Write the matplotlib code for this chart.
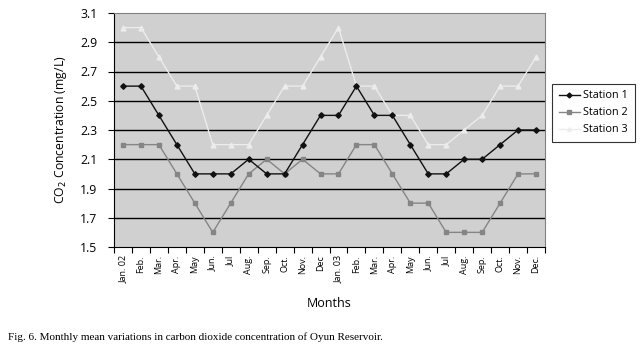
import matplotlib
matplotlib.use("Agg")
import matplotlib.pyplot as plt
import numpy as np

months = ["Jan. 02", "Feb.", "Mar.", "Apr.", "May", "Jun.", "Jul", "Aug.", "Sep.", "Oct.", "Nov.", "Dec",
          "Jan. 03", "Feb.", "Mar.", "Apr.", "May", "Jun.", "Jul", "Aug.", "Sep.", "Oct.", "Nov.", "Dec."]
station1 = [2.6, 2.6, 2.4, 2.2, 2.0, 2.0, 2.0, 2.1, 2.0, 2.0, 2.2, 2.4,
            2.4, 2.6, 2.4, 2.4, 2.2, 2.0, 2.0, 2.1, 2.1, 2.2, 2.3, 2.3]
station2 = [2.2, 2.2, 2.2, 2.0, 1.8, 1.6, 1.8, 2.0, 2.1, 2.0, 2.1, 2.0,
            2.0, 2.2, 2.2, 2.0, 1.8, 1.8, 1.6, 1.6, 1.6, 1.8, 2.0, 2.0]
station3 = [3.0, 3.0, 2.8, 2.6, 2.6, 2.2, 2.2, 2.2, 2.4, 2.6, 2.6, 2.8,
            3.0, 2.6, 2.6, 2.4, 2.4, 2.2, 2.2, 2.3, 2.4, 2.6, 2.6, 2.8]
yticks = [1.5, 1.7, 1.9, 2.1, 2.3, 2.5, 2.7, 2.9, 3.1]

plt.rcParams['font.family'] = ['Open Sans', 'DejaVu Sans']

fig = plt.figure(figsize=(6.4, 3.54), dpi=100)
ax = fig.add_axes([114/640, 1 - 247/354, (545-114)/640, (247-13)/354])
ax.set_facecolor("#d0d0d0")

x = np.arange(len(months))
ax.plot(x, station1, color="#111111", lw=1.0, marker="D", ms=2.8, label="Station 1", zorder=4)
ax.plot(x, station2, color="#858585", lw=1.0, marker="s", ms=3.5, label="Station 2", zorder=3)
ax.plot(x, station3, color="#ececec", lw=1.0, marker="^", ms=3.5, label="Station 3", zorder=3)

ax.set_xlim(-0.5, len(months) - 0.5)
ax.set_ylim(1.5, 3.1)
ax.set_yticks(yticks)
ax.set_yticklabels([f"{v:.1f}" for v in yticks], fontsize=8.8)
for v in yticks[1:-1]:
    ax.axhline(v, color="black", lw=1.0, zorder=1)

ax.set_xticks(np.arange(-0.5, len(months), 1.0))
ax.set_xticklabels([])
ax.set_xticks(x, minor=True)
ax.set_xticklabels(months, minor=True, rotation=90, fontsize=6.5)
ax.tick_params(axis="x", which="minor", length=0, pad=6)
ax.tick_params(axis="x", which="major", length=4, direction="out", width=0.8)
ax.tick_params(axis="y", length=4, direction="out", width=0.8, pad=8)

ax.spines["top"].set_color("#808080")
ax.spines["right"].set_color("#808080")
ax.spines["left"].set_color("black")
ax.spines["bottom"].set_color("black")

ax.set_ylabel("CO$_2$ Concentration (mg/L)", fontsize=8.8, labelpad=8)
ax.set_xlabel("Months", fontsize=9, labelpad=10)

leg = fig.legend(loc="upper left", bbox_to_anchor=(552/640, 1 - 84/354), fontsize=7.8,
                 frameon=True, fancybox=False, edgecolor="black", handlelength=2.0,
                 borderpad=0.6, labelspacing=0.55, handletextpad=0.3, borderaxespad=0)
leg.get_frame().set_linewidth(0.8)
for h in leg.legend_handles:
    h.set_markersize(2.5)

fig.text(8/640, 1 - 337/354, "Fig. 6. Monthly mean variations in carbon dioxide concentration of Oyun Reservoir.",
         family="Liberation Serif", fontsize=8.0, va="center", ha="left")

fig.savefig("out.png", dpi=100)
